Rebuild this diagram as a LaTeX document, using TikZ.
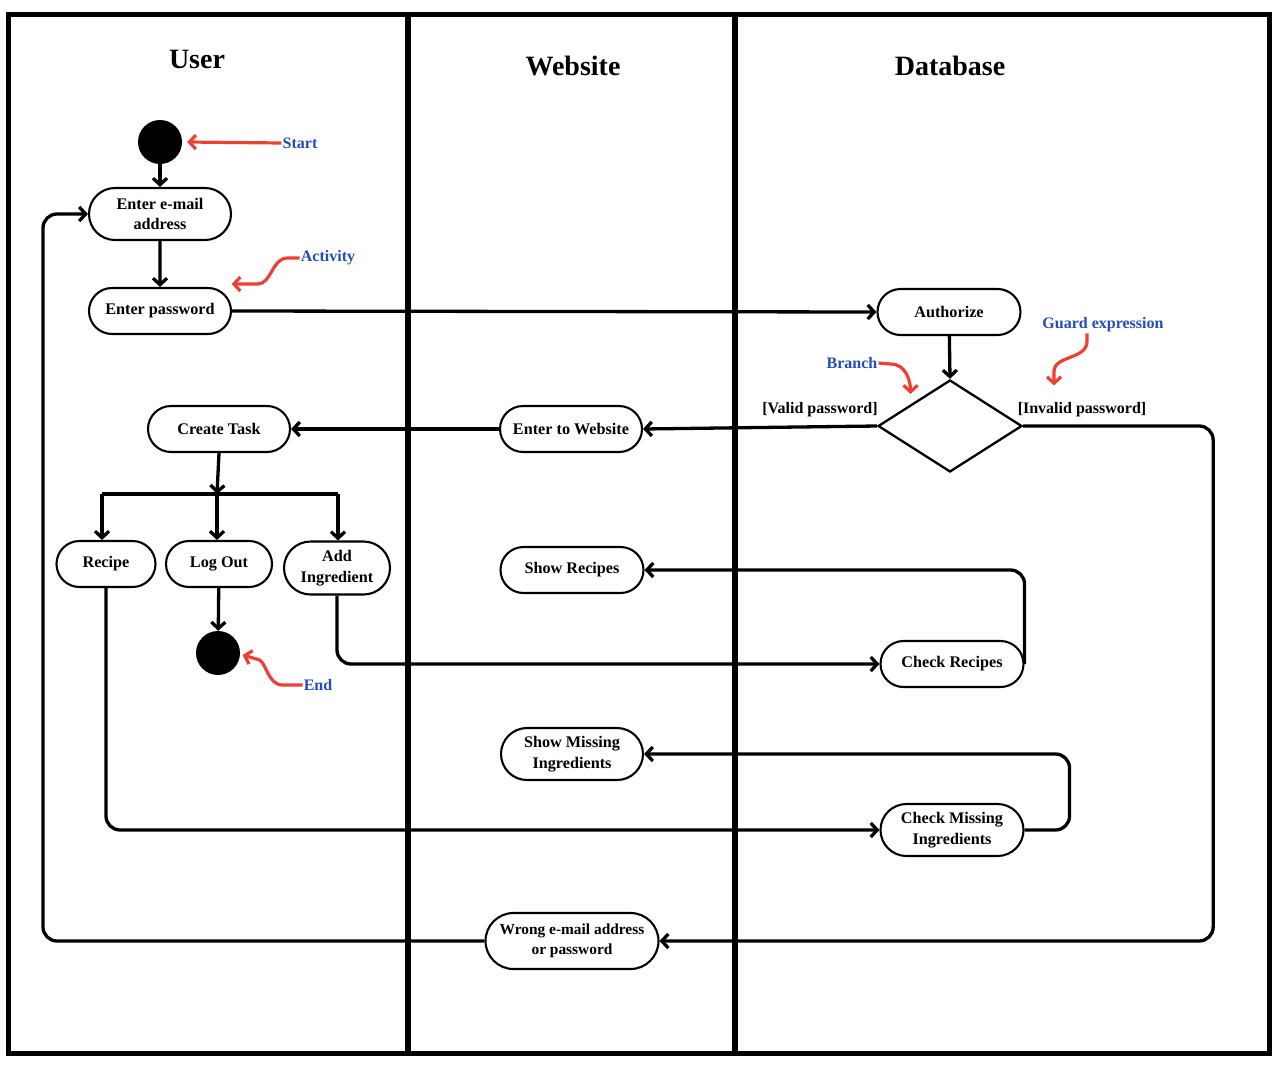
\documentclass[tikz,border=0pt]{standalone}
\usepackage{fontspec}
\setmainfont{Liberation Serif}
\usetikzlibrary{arrows.meta,shapes.misc,shapes.geometric}
\definecolor{annred}{RGB}{235,64,52}
\definecolor{annblue}{RGB}{35,75,185}
\begin{document}
\begin{tikzpicture}[x=1pt,y=-1pt,
  act/.style={draw, rounded rectangle, line width=2.1pt, fill=white, align=center,
    font=\fontsize{16.2}{20.5}\selectfont\bfseries, inner sep=0pt},
  conn/.style={line width=3.3pt, -{Straight Barb[length=6.5pt,width=14pt]}, rounded corners=14pt},
  plain/.style={line width=3.3pt},
  redarr/.style={annred, line width=3.2pt, -{Straight Barb[length=6.5pt,width=14pt]}},
  ann/.style={annblue, font=\fontsize{16}{18}\selectfont\bfseries, inner sep=1pt},
  guard/.style={font=\fontsize{16}{18}\selectfont\bfseries, inner sep=1pt},
  title/.style={font=\fontsize{28}{30}\selectfont\bfseries},
  dot/.style={circle, fill=black, minimum size=44pt, inner sep=0pt}]
\useasboundingbox (0,0) rectangle (1282,1068);
% frame and lanes
\draw[line width=5pt] (8,14) rectangle (1269,1053);
\coordinate (l1t) at (408,14); \coordinate (l1b) at (408,1053);
\coordinate (l2t) at (735,14); \coordinate (l2b) at (735,1053);
\draw[line width=5.5pt] (l1t) -- (l1b);
\draw[line width=5.5pt] (l2t) -- (l2b);
% titles
\node[title] (tuser) at (197,59) {User};
\node[title] (tweb) at (573,66) {Website};
\node[title] (tdb) at (950,66) {Database};
% nodes
\node[dot] (start) at (160,142) {};
\node[act, minimum width=142pt, minimum height=52pt] (email) at (160,214) {Enter e-mail\\address};
\node[act, minimum width=142pt, minimum height=46pt] (pw) at (160,311) {Enter password};
\node[act, minimum width=143pt, minimum height=46pt] (auth) at (949,312) {Authorize};
\node[draw, diamond, line width=2.3pt, minimum width=144pt, minimum height=92pt, inner sep=0pt] (dia) at (950,426) {};
\node[act, minimum width=142pt, minimum height=46pt] (enterweb) at (571,429) {Enter to Website};
\node[act, minimum width=142pt, minimum height=46pt] (ctask) at (219,429) {Create Task};
\node[act, minimum width=99pt, minimum height=46pt] (recipe) at (106,564) {Recipe};
\node[act, minimum width=106pt, minimum height=46pt] (logout) at (219,564) {Log Out};
\node[act, minimum width=106pt, minimum height=53pt] (addi) at (337,568) {Add\\Ingredient};
\node[dot] (end) at (218,653) {};
\node[act, minimum width=143pt, minimum height=46pt] (shwr) at (572,570) {Show Recipes};
\node[act, minimum width=143pt, minimum height=46pt] (chkr) at (952,664) {Check Recipes};
\node[act, minimum width=142pt, minimum height=52pt] (shwm) at (572,754) {Show Missing\\Ingredients};
\node[act, minimum width=143pt, minimum height=52pt] (chkm) at (952,830) {Check Missing\\Ingredients};
\node[act, minimum width=173pt, minimum height=56pt, font=\fontsize{15.4}{20.5}\selectfont\bfseries] (wrong) at (572,941) {Wrong e-mail address\\or password};
% guards
\node[guard] (gvalid) at (820,410) {[Valid password]};
\node[guard] (ginvalid) at (1082,410) {[Invalid password]};
% connectors
\draw[conn] (start) -- (email);
\draw[conn] (email) -- (pw);
\draw[conn] (pw.east) -- (auth.west);
\draw[conn] (auth) -- (dia.north);
\draw[conn] (dia.west) -- (enterweb.east);
\draw[conn] (enterweb.west) -- (ctask.east);
\coordinate (fork) at (217,494);
\coordinate (forkL) at (102,494);
\coordinate (forkR) at (338,494);
\draw[conn] (ctask.south) -- (fork);
\draw[plain] (forkL) -- (forkR);
\draw[conn] (forkL) -- (forkL |- recipe.north);
\draw[conn] (fork) -- (fork |- logout.north);
\draw[conn] (forkR) -- (forkR |- addi.north);
\draw[conn] (logout) -- (end);
\draw[conn] (addi.south) |- (chkr.west);
\draw[conn] (chkr.east) |- (shwr.east);
\draw[conn] (recipe.south) |- (chkm.west);
\draw[conn] (chkm.east) -- ++(45,0) |- (shwm.east);
\draw[conn] (dia.east) -- ++(190,0) |- (wrong.east);
\coordinate (leftrail) at (43,941);
\draw[conn] (wrong.west) -- (leftrail) |- (email.west);
% annotations
\node[ann] (lstart) at (300,143) {Start};
\draw[redarr] (lstart.west) -- ([xshift=5pt]start.east);
\node[ann] (lact) at (328,258) {Activity};
\draw[redarr] (lact.west) -- ++(-12,0) .. controls +(-16,0) and +(14,0) .. ++(-30,26) -- ++(-26,0);
\node[ann] (lbr) at (852,363) {Branch};
\draw[redarr] (lbr.east) -- ++(12,1) .. controls +(16,0) and +(0,-12) .. ++(20,30);
\node[ann] (lguard) at (1103,325) {Guard expression};
\draw[redarr] ([xshift=-16pt]lguard.south) -- ++(0,8) .. controls +(0,18) and +(0,-16) .. ++(-33,30) -- ++(0,14);
\node[ann] (lend) at (318,685) {End};
\draw[redarr] (lend.west) -- ++(-20,0) .. controls +(-16,0) and +(10,0) .. ++(-26,-26) -- ++(-14,-4);
\end{tikzpicture}
\end{document}
